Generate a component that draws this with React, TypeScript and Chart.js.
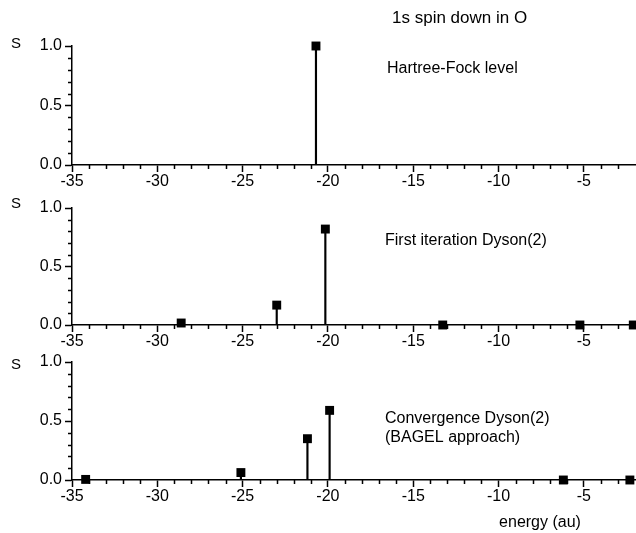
import React, { useEffect, useRef } from "react";
import { Chart, registerables } from "chart.js";
Chart.register(...registerables);

// ---- data ----
const xMin = -35;
const xMax = -2;
const xMajorTicks = [-35, -30, -25, -20, -15, -10, -5];
const xMinorTicks = [-34, -33, -32, -31, -29, -28, -27, -26, -24, -23, -22, -21, -19, -18, -17, -16, -14, -13, -12, -11, -9, -8, -7, -6, -4, -3];
const yMajorTicks = [0, 0.5, 1.0];
const yMinorTicks = [0.1, 0.2, 0.3, 0.4, 0.6, 0.7, 0.8, 0.9];

const hfEnergy = [-20.7];
const hfStrength = [1.0];
const firstEnergy = [-28.6, -23.0, -20.15, -13.27, -5.23, -2.1];
const firstStrength = [0.017, 0.17, 0.82, 0, 0, 0];
const convEnergy = [-34.2, -25.1, -21.2, -19.9, -6.2, -2.3];
const convStrength = [0.005, 0.063, 0.35, 0.59, 0, 0];

const titleText = "1s spin down in O";
const yAxisLabel = "S";
const xAxisLabel = "energy (au)";
const hfLabel = ["Hartree-Fock level"];
const firstLabel = ["First iteration Dyson(2)"];
const convLabel = ["Convergence Dyson(2)", "(BAGEL approach)"];

const FONT = "'Liberation Sans', Arial, sans-serif";

type TextItem = { t: string; x: number; y: number; size: number; align: CanvasTextAlign };
type Panel = {
  top: number;
  height: number;
  padTop: number;
  axisHeight: number;
  energy: number[];
  strength: number[];
  texts: TextItem[];
};

const panels: Panel[] = [
  {
    top: 0, height: 200, padTop: 46, axisHeight: 35,
    energy: hfEnergy, strength: hfStrength,
    texts: [
      { t: titleText, x: 392, y: 18, size: 17, align: "left" },
      { t: yAxisLabel, x: 16, y: 44, size: 15, align: "center" },
      { t: hfLabel[0], x: 387, y: 69, size: 16, align: "left" },
    ],
  },
  {
    top: 190, height: 160, padTop: 18, axisHeight: 25,
    energy: firstEnergy, strength: firstStrength,
    texts: [
      { t: yAxisLabel, x: 16, y: 204, size: 15, align: "center" },
      { t: firstLabel[0], x: 385, y: 241, size: 16, align: "left" },
    ],
  },
  {
    top: 345, height: 188, padTop: 17, axisHeight: 53,
    energy: convEnergy, strength: convStrength,
    texts: [
      { t: yAxisLabel, x: 16, y: 365, size: 15, align: "center" },
      { t: convLabel[0], x: 385, y: 419, size: 16, align: "left" },
      { t: convLabel[1], x: 385, y: 438, size: 16, align: "left" },
      { t: xAxisLabel, x: 540, y: 523, size: 16, align: "center" },
    ],
  },
];

function PanelChart({ p }: { p: Panel }) {
  const ref = useRef<HTMLCanvasElement | null>(null);
  useEffect(() => {
    if (!ref.current) return;
    const pts = p.energy.map((e, i) => ({ x: e, y: p.strength[i] }));
    const decor = {
      id: "decor",
      afterDraw(chart: any) {
        const ctx = chart.ctx as CanvasRenderingContext2D;
        const xs = chart.scales.x;
        const ys = chart.scales.y;
        const area = chart.chartArea;
        ctx.save();
        ctx.strokeStyle = "#000";
        ctx.lineWidth = 1.5;
        ctx.beginPath();
        for (const v of xMinorTicks) {
          const px = Math.round(xs.getPixelForValue(v)) + 0.5;
          ctx.moveTo(px, area.bottom);
          ctx.lineTo(px, area.bottom + 4);
        }
        for (const v of yMinorTicks) {
          const py = Math.round(ys.getPixelForValue(v)) + 0.5;
          ctx.moveTo(area.left, py);
          ctx.lineTo(area.left - 4, py);
        }
        ctx.stroke();
        ctx.fillStyle = "#000";
        ctx.textBaseline = "middle";
        for (const it of p.texts) {
          ctx.font = `${it.size}px ${FONT}`;
          ctx.textAlign = it.align;
          ctx.fillText(it.t, it.x, it.y - p.top);
        }
        ctx.restore();
      },
    };
    const chart = new Chart(ref.current, {
      type: "bar",
      data: {
        datasets: [
          {
            type: "scatter",
            data: pts,
            pointStyle: "rect",
            pointRadius: 6.3,
            pointHoverRadius: 6.3,
            backgroundColor: "#000",
            borderColor: "#000",
            borderWidth: 0,
            clip: false,
            order: 0,
          } as any,
          {
            type: "bar",
            data: pts,
            backgroundColor: "#000",
            borderWidth: 0,
            barThickness: 1.5,
            clip: false,
            order: 1,
          } as any,
        ],
      },
      options: {
        animation: false,
        responsive: false,
        events: [],
        layout: { autoPadding: false, padding: { top: p.padTop, left: 0, right: 1, bottom: 0 } },
        plugins: { legend: { display: false }, tooltip: { enabled: false }, title: { display: false } },
        scales: {
          x: {
            type: "linear",
            min: xMin,
            max: xMax,
            offset: false,
            afterBuildTicks: (s: any) => {
              s.ticks = xMajorTicks.map((v) => ({ value: v }));
            },
            afterFit: (s: any) => {
              s.height = p.axisHeight;
            },
            ticks: {
              color: "#000",
              font: { family: FONT, size: 16 },
              padding: 0,
              maxRotation: 0,
              autoSkip: false,
              callback: (v: any) => String(v),
            },
            grid: {
              offset: false,
              drawOnChartArea: false,
              drawTicks: true,
              tickLength: 7,
              tickColor: "#000",
              tickWidth: 1.5,
              color: "#000",
            },
            border: { display: true, color: "#000", width: 1.5 },
          },
          y: {
            type: "linear",
            min: 0,
            max: 1,
            afterBuildTicks: (s: any) => {
              s.ticks = yMajorTicks.map((v) => ({ value: v }));
            },
            afterFit: (s: any) => {
              s.width = 72;
            },
            ticks: {
              color: "#000",
              font: { family: FONT, size: 16 },
              padding: 3,
              autoSkip: false,
              callback: (v: any) => Number(v).toFixed(1),
            },
            grid: {
              drawOnChartArea: false,
              drawTicks: true,
              tickLength: 7,
              tickColor: "#000",
              tickWidth: 1.5,
              color: "#000",
            },
            border: { display: true, color: "#000", width: 1.5 },
          },
        },
      } as any,
      plugins: [decor],
    });
    return () => chart.destroy();
  }, [p]);
  return (
    <canvas
      ref={ref}
      width={636}
      height={p.height}
      style={{ position: "absolute", left: 0, top: p.top, width: 636, height: p.height }}
    />
  );
}

export default function App() {
  return (
    <div style={{ position: "fixed", left: 0, top: 0, width: 636, height: 533, background: "#fff", overflow: "hidden" }}>
      {panels.map((p, i) => (
        <PanelChart key={i} p={p} />
      ))}
    </div>
  );
}
